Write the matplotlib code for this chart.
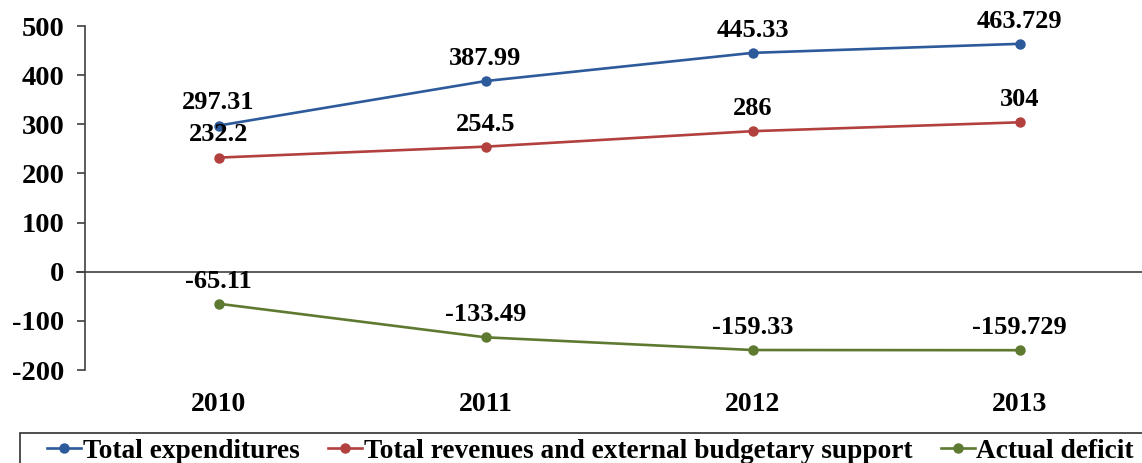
import matplotlib
matplotlib.use('Agg')
import matplotlib.pyplot as plt
from matplotlib.patches import Rectangle
import numpy as np

years = ['2010', '2011', '2012', '2013']
expenditures = [297.31, 387.99, 445.33, 463.729]
revenues = [232.2, 254.5, 286, 304]
deficit = [-65.11, -133.49, -159.33, -159.729]

labels_exp = ['297.31', '387.99', '445.33', '463.729']
labels_rev = ['232.2', '254.5', '286', '304']
labels_def = ['-65.11', '-133.49', '-159.33', '-159.729']

series = [
    ('Total expenditures', expenditures, labels_exp, '#2C5A9A'),
    ('Total revenues and external budgetary support', revenues, labels_rev, '#B2403F'),
    ('Actual deficit', deficit, labels_def, '#5E7A30'),
]

plt.rcParams['font.family'] = 'Liberation Serif'
plt.rcParams['font.weight'] = 'bold'
plt.rcParams['axes.unicode_minus'] = False

W, H = 1142, 463
fig = plt.figure(figsize=(W / 100, H / 100), dpi=100)
ax = fig.add_axes([85 / W, 93 / H, 1068 / W, 344 / H])

x = np.arange(len(years))
for name, vals, labs, col in series:
    ax.plot(x, vals, color=col, lw=1.9, marker='o', markersize=6.5, label=name)
    for xi, v, lab in zip(x, vals, labs):
        ax.annotate(lab, xy=(xi, v), xytext=(0, 8), textcoords='offset points',
                    ha='center', va='bottom', fontsize=19, fontweight='bold')

ax.axhline(0, color='#404040', lw=1.2, xmin=-0.0075, clip_on=False)
ax.set_xlim(-0.5, 3.5)
ax.set_ylim(-200, 500)
ax.set_yticks(np.arange(-200, 501, 100))
ax.set_xticks(x)
ax.set_xticklabels(years)

for s in ['top', 'right', 'bottom']:
    ax.spines[s].set_visible(False)
ax.spines['left'].set_color('#404040')
ax.spines['left'].set_linewidth(1.2)
ax.tick_params(axis='y', direction='out', length=6, width=1.2, color='#404040',
               labelsize=20.5, pad=9)
ax.tick_params(axis='x', length=0, labelsize=20, pad=16)
for t in ax.get_xticklabels() + ax.get_yticklabels():
    t.set_fontweight('bold')

# legend box runs off the bottom/right edge like in the source image
fig.patches.append(Rectangle((20 / W, -0.2), 1.2, 0.2 + (H - 433) / H,
                             transform=fig.transFigure, fill=False,
                             edgecolor='#303030', lw=1.2))
leg = fig.legend(loc='center left', bbox_to_anchor=(47 / W, 12 / H),
                 ncol=3, frameon=False,
                 prop={'size': 19.7, 'weight': 'bold'}, handlelength=1.25,
                 handletextpad=0.05, columnspacing=1.05, borderpad=0,
                 borderaxespad=0)

fig.savefig('out.png', dpi=100)
